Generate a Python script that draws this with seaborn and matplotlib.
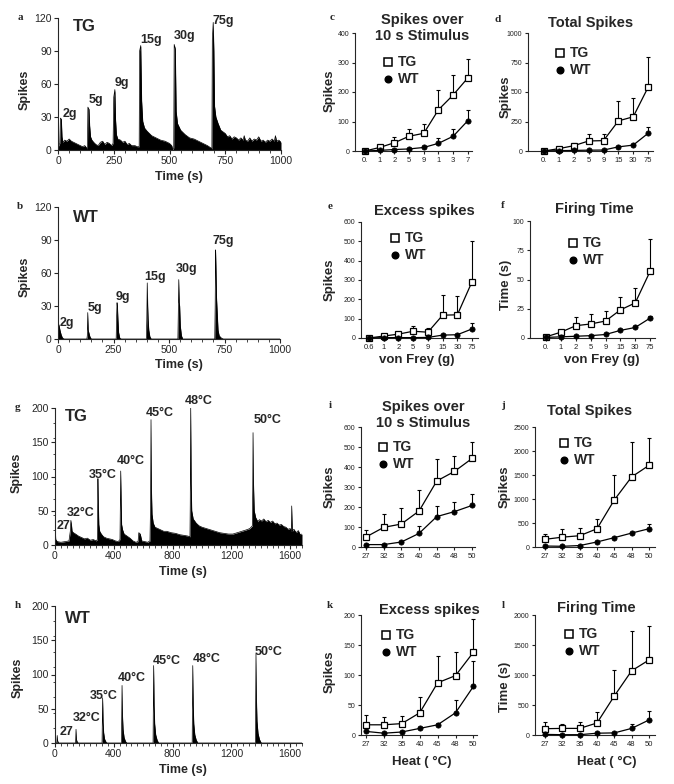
import numpy as np
import matplotlib
matplotlib.use("Agg")
import matplotlib.pyplot as plt
import seaborn as sns
from matplotlib.ticker import MultipleLocator, LinearLocator

# ---------------- data: spike-count traces (time s, spikes per bin) ----------------
a_time = [0, 3, 8, 11, 15, 18, 22, 30, 40, 50, 60, 70, 80, 90, 100, 110, 120, 128, 132,
          134, 139, 142, 146, 152, 160, 170, 180, 190, 200, 210, 220, 230, 240, 247,
          250, 255, 258, 262, 268, 280, 290, 300, 310, 320, 330, 345, 355, 364,
          366, 371, 375, 380, 388, 400, 420, 440, 460, 480, 500, 510, 515, 519,
          521, 526, 530, 536, 550, 570, 590, 610, 630, 650, 670, 685, 690,
          692, 696, 699, 702, 708, 718, 730, 750, 760, 770, 780, 790, 800, 810, 820,
          830, 835, 840, 850, 860, 870, 880, 890, 900, 910, 920, 930, 940, 950, 960,
          970, 975, 980, 990, 1000]
a_spikes = [0, 4, 6, 29, 28, 12, 7, 9, 8, 10, 8, 7, 6, 5, 4, 3, 4, 2, 1,
            39, 37, 22, 12, 9, 7, 5, 4, 7, 8, 5, 7, 6, 4, 6,
            48, 55, 28, 14, 10, 9, 7, 8, 5, 6, 4, 4, 3, 3,
            90, 95, 45, 26, 20, 17, 13, 11, 9, 8, 6, 4, 0, 2,
            96, 92, 35, 24, 18, 14, 11, 10, 8, 6, 4, 2, 1,
            100, 116, 90, 40, 30, 24, 18, 15, 12, 13, 10, 12, 11, 9, 11,
            9, 13, 9, 8, 11, 8, 10, 9, 12, 8, 9, 7, 9, 8, 10,
            8, 13, 8, 9, 7]

b_time = [0, 2, 5, 9, 14, 20, 28, 130, 132, 134, 136, 140, 144, 150,
          262, 264, 266, 268, 270, 273, 278, 285, 398, 400, 402, 404, 406, 409, 414, 420,
          540, 542, 544, 546, 548, 551, 556, 562, 706, 708, 710, 712, 714, 717, 721, 726,
          735, 745, 1000]
b_spikes = [0, 14, 12, 8, 4, 1, 0, 0, 3, 24, 8, 5, 2, 0,
            0, 20, 33, 28, 18, 6, 1, 0, 0, 18, 51, 30, 18, 8, 2, 0,
            0, 25, 54, 33, 30, 12, 3, 0, 0, 30, 81, 60, 38, 25, 8, 3,
            1, 0, 0]

g_time = [0, 2, 5, 15, 40, 70, 95, 104, 108, 112, 116, 125, 140, 160, 180, 200, 220, 240,
          260, 280, 288, 292, 295, 298, 304, 315, 330, 350, 370, 390, 410, 430, 442,
          447, 450, 453, 460, 470, 490, 510, 530, 550, 565, 570, 580, 590, 610, 630, 646,
          650, 653, 656, 660, 668, 680, 700, 720, 740, 760, 790, 820, 850, 880, 905, 918,
          920, 923, 926, 930, 940, 960, 980, 1000, 1030, 1060, 1090, 1120, 1150, 1180,
          1210, 1240, 1270, 1300, 1325, 1342, 1345, 1347, 1350, 1355, 1365, 1380, 1390,
          1405, 1420, 1435, 1450, 1465, 1480, 1495, 1510, 1525, 1540, 1555, 1570, 1585,
          1600, 1608, 1610, 1614, 1625, 1640, 1655, 1668, 1680]
g_spikes = [0, 20, 8, 5, 4, 5, 6, 20, 36, 30, 20, 18, 16, 13, 11, 9, 10, 7,
            8, 6, 8, 97, 60, 30, 20, 16, 12, 10, 9, 8, 6, 5, 8,
            108, 60, 30, 22, 16, 13, 10, 6, 4, 5, 18, 16, 6, 5, 4, 6,
            60, 183, 80, 45, 32, 26, 24, 22, 20, 20, 18, 17, 15, 14, 13, 12,
            60, 201, 90, 50, 38, 32, 28, 26, 24, 22, 20, 18, 17, 16,
            16, 18, 20, 22, 24, 28, 80, 164, 90, 50, 40, 34, 37,
            35, 38, 34, 36, 33, 35, 31, 32, 29, 30, 27, 26, 23,
            24, 20, 57, 20, 23, 18, 21, 15, 16]

h_time = [0, 12, 15, 18, 24, 140, 143, 146, 152, 160, 320, 324, 327, 331, 337, 345, 355,
          452, 456, 459, 463, 470, 480, 490, 667, 671, 674, 678, 685, 695, 705,
          933, 937, 940, 944, 951, 961, 972, 1363, 1367, 1370, 1374, 1381, 1391, 1403, 1680]
h_spikes = [0, 0, 11, 3, 0, 0, 20, 5, 1, 0, 0, 66, 30, 15, 6, 2, 0,
            0, 84, 40, 20, 8, 2, 0, 0, 113, 55, 28, 12, 4, 0,
            0, 113, 55, 28, 12, 4, 0, 0, 130, 65, 32, 14, 5, 0, 0]

mech_labels = ["2g", "5g", "9g", "15g", "30g", "75g"]
heat_labels = ["27", "32°C", "35°C", "40°C", "45°C", "48°C", "50°C"]

# ---------------- data: dose-response summaries (mean, upper SEM) ----------------
vf_c = ["0.", "1", "2", "5", "9", "1", "3", "7"]
vf_full = ["0.", "1", "2", "5", "9", "15", "30", "75"]
vf_e = ["0.6", "1", "2", "5", "9", "15", "30", "75"]
heat_x = ["27", "32", "35", "40", "45", "48", "50"]

c_tg = [0, 12, 28, 50, 60, 140, 190, 248]
c_tg_err = [0, 3, 20, 26, 30, 67, 67, 63]
c_wt = [0, 2, 5, 7, 12, 26, 50, 103]
c_wt_err = [0, 1, 2, 3, 4, 17, 23, 35]

d_tg = [0, 20, 45, 85, 88, 255, 290, 540]
d_tg_err = [0, 5, 25, 55, 52, 170, 155, 260]
d_wt = [0, 3, 5, 7, 8, 35, 50, 150]
d_wt_err = [0, 1, 2, 3, 4, 8, 10, 55]

e_tg = [0, 10, 20, 35, 30, 118, 120, 292]
e_tg_err = [0, 3, 5, 27, 20, 104, 95, 208]
e_wt = [0, 2, 2, 2, 3, 15, 17, 47]
e_wt_err = [0, 1, 1, 1, 1, 3, 4, 30]

f_tg = [1, 5, 10.5, 12, 14.5, 24, 30, 57]
f_tg_err = [0.5, 1, 7.5, 8.5, 8.5, 11, 13, 28]
f_wt = [0.5, 1, 1.5, 2, 3, 6.5, 9, 17]
f_wt_err = [0.2, 0.3, 0.4, 0.5, 0.7, 1, 1, 1.5]

i_tg = [50, 98, 115, 180, 330, 378, 443]
i_tg_err = [35, 67, 78, 105, 110, 77, 80]
i_wt = [12, 12, 25, 68, 152, 177, 208]
i_wt_err = [3, 3, 6, 37, 53, 48, 55]

j_tg = [160, 205, 235, 380, 980, 1460, 1700]
j_tg_err = [120, 165, 165, 210, 530, 720, 570]
j_wt = [20, 15, 30, 105, 195, 290, 380]
j_wt_err = [5, 5, 10, 15, 20, 30, 100]

k_tg = [17, 17, 19, 37, 87, 99, 138]
k_tg_err = [17, 13, 12, 27, 44, 40, 55]
k_wt = [6, 3, 5, 11, 17, 37, 81]
k_wt_err = [1, 1, 1, 2, 3, 21, 42]

l_tg = [105, 110, 110, 200, 650, 1070, 1250]
l_tg_err = [105, 70, 110, 180, 430, 660, 560]
l_wt = [10, 5, 5, 30, 35, 110, 250]
l_wt_err = [5, 3, 3, 10, 10, 70, 150]

# ---------------- style / layout ----------------
sns.set_style("ticks")
plt.rcParams["font.family"] = ["Liberation Sans", "DejaVu Sans"]
plt.rcParams["axes.linewidth"] = 0.8

W, H = 674, 784
fig = plt.figure(figsize=(W / 100, H / 100), dpi=100)


def rect(l, r, t, b):
    return [l / W, 1 - b / H, (r - l) / W, (b - t) / H]


def fx(x):
    return x / W


def fy(y):
    return 1 - y / H


def ftext(x, y, s, **kw):
    fig.text(fx(x), fy(y), s, **kw)


def trace_panel(box, times, spikes, xlim, ylim, yticks, xticks, minor_x, minor_y,
                labels, label_pos, big, big_pos, letter, letter_xy, ylab_xy, xlab_xy):
    ax = fig.add_axes(rect(*box))
    ax.fill_between(times, spikes, 0, color="black", lw=0)
    sns.lineplot(x=times, y=spikes, estimator=None, sort=False, color="black",
                 lw=0.5, ax=ax)
    ax.set_xlim(*xlim)
    ax.set_ylim(*ylim)
    ax.set_xticks(xticks)
    ax.set_yticks(yticks)
    ax.xaxis.set_minor_locator(MultipleLocator(minor_x))
    if minor_y:
        ax.yaxis.set_minor_locator(LinearLocator(10))
    sns.despine(ax=ax)
    ax.tick_params(axis="both", which="major", labelsize=7.5, length=3, width=0.8, pad=1.5)
    ax.tick_params(axis="both", which="minor", length=1.8, width=0.6)
    ax.set_xlabel("")
    ax.set_ylabel("")
    for s, (tx, ty) in zip(labels, label_pos):
        ax.text(tx, ty, s, ha="left", va="center", fontsize=9, weight="bold",
                clip_on=False)
    ax.text(big_pos[0], big_pos[1], big, ha="left", va="center", fontsize=12,
            weight="bold")
    ftext(*letter_xy, letter, family=["Liberation Serif", "DejaVu Serif"], weight="bold",
          fontsize=8, ha="center", va="center")
    ftext(*ylab_xy, "Spikes", rotation=90, ha="center", va="center", fontsize=9,
          weight="bold")
    ftext(*xlab_xy, "Time (s)", ha="center", va="center", fontsize=9, weight="bold")
    return ax


def dose_panel(box, xlabels, tg, tg_err, wt, wt_err, xlim, ylim, yticks,
               title, title_xy, ylab, ylab_xy, xlab, xlab_xy, leg_xy, letter, letter_xy):
    ax = fig.add_axes(rect(*box))
    pos = np.arange(len(xlabels))
    ax.errorbar(pos, tg, yerr=[np.zeros(len(tg)), tg_err], fmt="none", ecolor="black",
                elinewidth=0.8, capsize=1.6, capthick=0.8, zorder=2)
    ax.errorbar(pos, wt, yerr=[np.zeros(len(wt)), wt_err], fmt="none", ecolor="black",
                elinewidth=0.8, capsize=1.6, capthick=0.8, zorder=2)
    sns.lineplot(x=pos, y=tg, estimator=None, sort=False, color="black", lw=0.9,
                 marker="s", markersize=4.8, markerfacecolor="white",
                 markeredgecolor="black", markeredgewidth=0.9, ax=ax, zorder=3,
                 clip_on=False)
    sns.lineplot(x=pos, y=wt, estimator=None, sort=False, color="black", lw=0.9,
                 marker="o", markersize=3.8, markerfacecolor="black",
                 markeredgecolor="black", markeredgewidth=0.5, ax=ax, zorder=4,
                 clip_on=False)
    ax.set_xlim(*xlim)
    ax.set_ylim(*ylim)
    ax.set_xticks(pos)
    ax.set_xticklabels(xlabels)
    ax.set_yticks(yticks)
    sns.despine(ax=ax)
    ax.tick_params(axis="both", length=2.5, width=0.8, pad=1.5, colors="#222222")
    ax.tick_params(axis="x", labelsize=5.5)
    ax.tick_params(axis="y", labelsize=5)
    ax.set_xlabel("")
    ax.set_ylabel("")
    ftext(*title_xy, title, ha="center", va="center", fontsize=10.5, weight="bold",
          linespacing=1.2)
    ftext(*ylab_xy, ylab, rotation=90, ha="center", va="center", fontsize=9.5,
          weight="bold")
    if xlab:
        ftext(*xlab_xy, xlab, ha="center", va="center", fontsize=9.5, weight="bold")
    lx, ly = leg_xy
    fig.lines.append(plt.Line2D([fx(lx)], [fy(ly)], transform=fig.transFigure,
                                marker="s", markersize=6, markerfacecolor="white",
                                markeredgecolor="black", markeredgewidth=1.1,
                                linestyle="none"))
    fig.lines.append(plt.Line2D([fx(lx)], [fy(ly + 17)], transform=fig.transFigure,
                                marker="o", markersize=4.8, markerfacecolor="black",
                                markeredgecolor="black", linestyle="none"))
    ftext(lx + 10, ly, "TG", ha="left", va="center", fontsize=10, weight="bold")
    ftext(lx + 10, ly + 17, "WT", ha="left", va="center", fontsize=10, weight="bold")
    ftext(*letter_xy, letter, family=["Liberation Serif", "DejaVu Serif"], weight="bold",
          fontsize=8, ha="center", va="center")
    return ax


# ---- left column: traces ----
trace_panel((58, 281, 18, 150), a_time, a_spikes, (0, 1000), (0, 120),
            [0, 30, 60, 90, 120], [0, 250, 500, 750, 1000], 50, False,
            mech_labels, [(22, 33), (139, 45), (256, 61), (368, 100), (520, 104), (695, 117)],
            "TG", (67, 112), "a", (20, 17), (25, 90), (179, 177))

trace_panel((58, 280, 207, 339), b_time, b_spikes, (0, 1000), (0, 120),
            [0, 30, 60, 90, 120], [0, 250, 500, 750, 1000], 50, False,
            mech_labels, [(9, 15), (135, 28), (261, 38), (387, 56), (532, 64), (698, 89)],
            "WT", (67, 110), "b", (20, 207), (25, 277), (179, 365))

trace_panel((55, 302, 408, 545), g_time, g_spikes, (0, 1680), (0, 200),
            [0, 50, 100, 150, 200], [0, 400, 800, 1200, 1600], 40, True,
            heat_labels, [(14, 28), (82, 47), (231, 102), (422, 123), (619, 193),
                          (884, 210), (1354, 182)],
            "TG", (68, 187), "g", (18, 407), (17, 473), (183, 572))

trace_panel((55, 302, 606, 743), h_time, h_spikes, (0, 1680), (0, 200),
            [0, 50, 100, 150, 200], [0, 400, 800, 1200, 1600], 40, True,
            heat_labels, [(34, 16), (122, 36), (238, 69), (429, 95), (667, 120),
                          (939, 123), (1361, 133)],
            "WT", (68, 182), "h", (18, 605), (18, 678), (183, 770))

# ---- right columns: summaries ----
dose_panel((355, 472, 33, 151), vf_c, c_tg, c_tg_err, c_wt, c_wt_err,
           (-0.68, 7.28), (0, 400), [0, 100, 200, 300, 400],
           "Spikes over\n10 s Stimulus", (422, 28), "Spikes", (330, 91), None, None,
           (388, 62), "c", (332, 17))
dose_panel((528, 653, 33, 151), vf_full, d_tg, d_tg_err, d_wt, d_wt_err,
           (-1.08, 7.33), (0, 1000), [0, 250, 500, 750, 1000],
           "Total Spikes", (591, 23), "Spikes", (506, 97), None, None,
           (560, 53), "d", (498, 20))
dose_panel((361, 478, 222, 338), vf_e, e_tg, e_tg_err, e_wt, e_wt_err,
           (-0.54, 7.4), (0, 600), [0, 100, 200, 300, 400, 500, 600],
           "Excess spikes", (424, 211), "Spikes", (330, 280), "von Frey (g)", (417, 360),
           (395, 238), "e", (330, 207))
dose_panel((530, 655, 221, 338), vf_full, f_tg, f_tg_err, f_wt, f_wt_err,
           (-1.08, 7.33), (0, 100), [0, 25, 50, 75, 100],
           "Firing Time", (594, 209), "Time (s)", (506, 285), "von Frey (g)", (602, 360),
           (573, 243), "f", (503, 205))
dose_panel((361, 475, 427, 547), heat_x, i_tg, i_tg_err, i_wt, i_wt_err,
           (-0.28, 6.16), (0, 600), [0, 100, 200, 300, 400, 500, 600],
           "Spikes over\n10 s Stimulus", (423, 415), "Spikes", (330, 487), None, None,
           (383, 447), "i", (330, 405))
dose_panel((535, 655, 427, 547), heat_x, j_tg, j_tg_err, j_wt, j_wt_err,
           (-0.58, 6.35), (0, 2500), [0, 500, 1000, 1500, 2000, 2500],
           "Total Spikes", (590, 411), "Spikes", (505, 487), None, None,
           (564, 443), "j", (503, 405))
dose_panel((361, 477, 615, 735), heat_x, k_tg, k_tg_err, k_wt, k_wt_err,
           (-0.28, 6.2), (0, 200), [0, 50, 100, 150, 200],
           "Excess spikes", (429, 610), "Spikes", (330, 672), "Heat ( °C)", (422, 762),
           (386, 635), "k", (330, 605))
dose_panel((535, 655, 615, 735), heat_x, l_tg, l_tg_err, l_wt, l_wt_err,
           (-0.58, 6.35), (0, 2000), [0, 500, 1000, 1500, 2000],
           "Firing Time", (596, 608), "Time (s)", (505, 687), "Heat ( °C)", (607, 762),
           (569, 634), "l", (503, 605))

fig.savefig("out.png", dpi=100)
